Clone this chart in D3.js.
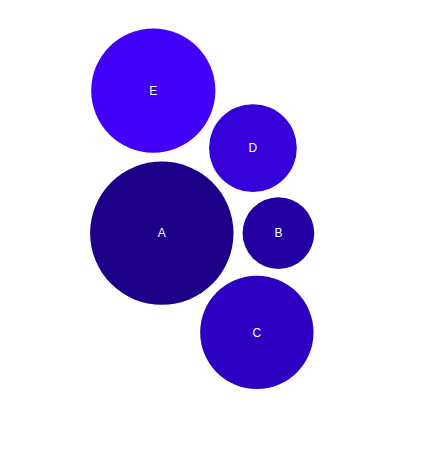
<!DOCTYPE html>
<html><head><meta charset="utf-8">
<script src="https://cdn.jsdelivr.net/npm/d3@7"></script>
<style>html,body{margin:0;padding:0;background:#fff;}svg{display:block;}</style>
</head><body>
<script>
const categories = ["A","B","C","D","E"];
const values = [40,10,25,15,30];
const colors = ["#1d0088","#2300a2","#2d00c2","#3600d8","#4200fb"];

const W = 443, H = 457;
const packSize = 400, cx = 204, cy = 209;
const svg = d3.select("body").append("svg").attr("width", W).attr("height", H);

const root = d3.hierarchy({children: categories.map((c,i)=>({name:c, value:values[i], color:colors[i]}))})
  .sum(d => d.value || 0);
d3.pack().size([packSize, packSize]).padding(10)(root);

const gRoot = svg.append("g").attr("transform", `translate(${cx - packSize/2},${cy - packSize/2})`);
const g = gRoot.selectAll("g.node").data(root.leaves()).join("g")
  .attr("transform", d => `translate(${d.x},${d.y})`);
g.append("circle").attr("r", d => d.r).attr("fill", d => d.data.color);
g.append("text").attr("text-anchor","middle").attr("dy","0.35em")
  .attr("fill","#fff").attr("font-family","Arial, 'Liberation Sans', sans-serif").attr("font-size",12)
  .text(d => d.data.name);
</script>
</body></html>
